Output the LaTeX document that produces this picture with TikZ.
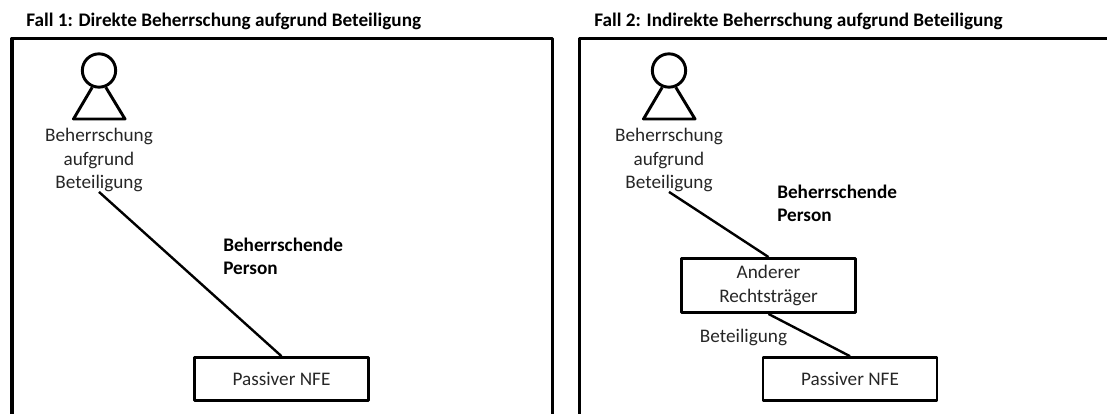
\documentclass[tikz,border=0pt]{standalone}
\usepackage{fontspec}
\setmainfont{Carlito}
\usetikzlibrary{positioning}

\begin{document}
\begin{tikzpicture}[%
        x=0.75pt,y=-0.75pt,
        line join=round,
        node distance=0.4cm,
        frame/.style={%
          line width=2.6pt
        },
        link/.style={%
          line width=1.8pt
        },
        figure/.style={%
          line width=2.2pt
        },
        nfebox/.style={%
          rectangle,
          draw,
          line width=2.2pt,
          align=center,
          inner sep=0pt,
          minimum width=130.5pt,
          text=black!85,
          font=\fontsize{14.4pt}{17.5pt}\selectfont
        },
        plain/.style={%
          align=center,
          inner sep=0pt,
          text=black!85,
          font=\fontsize{14.4pt}{17.5pt}\selectfont
        },
        strong/.style={%
          anchor=west,
          align=left,
          inner sep=0pt,
          font=\fontsize{14.4pt}{17.5pt}\selectfont\bfseries
        },
        heading/.style={%
          anchor=west,
          inner sep=0pt,
          font=\fontsize{14.4pt}{17.5pt}\selectfont\bfseries
        },
        head/.style={%
          circle,
          draw,
          figure,
          minimum size=25pt,
          inner sep=0pt
        }
      ]
      \useasboundingbox (0,0) rectangle (1107,414);
      \node[heading] (title1) at (26,21) {Fall 1: Direkte Beherrschung aufgrund Beteiligung};
      \node[heading] (title2) at (594,21) {Fall 2: Indirekte Beherrschung aufgrund Beteiligung};
      \draw[frame] (12,414) -- (12,38.5) -- (552.5,38.5) -- (552.5,414);
      \draw[frame] (579.5,414) -- (579.5,38.5) -- (1107,38.5);

      % Fall 1
      \node[head] (head1) at (99,70.5) {};
      \coordinate (foot1a) at (73.5,119);
      \coordinate (foot1b) at (125,119);
      \draw[figure] (head1.248) -- (foot1a) -- (foot1b) -- (head1.292);
      \node[plain] (person1) at (99,160) {Beherrschung\\aufgrund\\Beteiligung};
      \node[strong] (bold1) at (223,256.5) {Beherrschende\\Person};
      \node[nfebox,minimum height=32pt] (nfe1) at (281.5,379) {Passiver NFE};
      \draw[link] (person1.south) -- (nfe1.north);

      % Fall 2
      \node[head] (head2) at (669,70.5) {};
      \coordinate (foot2a) at (643.5,119);
      \coordinate (foot2b) at (695,119);
      \draw[figure] (head2.248) -- (foot2a) -- (foot2b) -- (head2.292);
      \node[plain] (person2) at (669,160) {Beherrschung\\aufgrund\\Beteiligung};
      \node[strong] (bold2) at (777,203.5) {Beherrschende\\Person};
      \node[nfebox,minimum height=40.5pt] (other) at (768.5,285.5) {Anderer\\Rechtsträger};
      \node[nfebox,minimum height=32pt] (nfe2) at (850,379) {Passiver NFE};
      \node[plain] (share) at (743.5,337) {Beteiligung};
      \draw[link] (person2.south) -- (other.north);
      \draw[link] (other.south) -- (nfe2.north);
\end{tikzpicture}
\end{document}
